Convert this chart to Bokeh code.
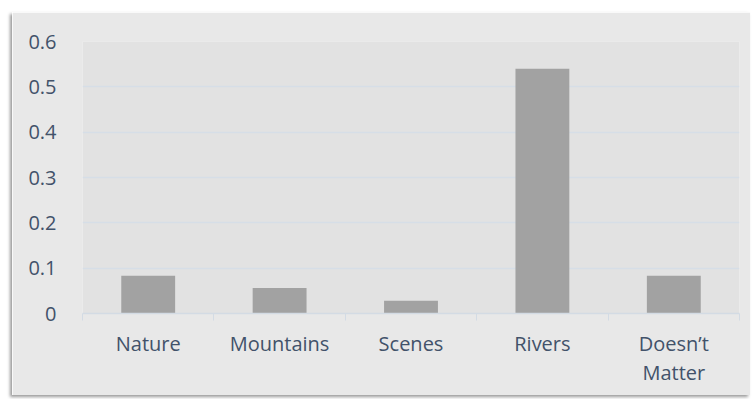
from bokeh.plotting import figure
from bokeh.models import FixedTicker, ColumnDataSource, Spacer
from bokeh.layouts import column, row
from bokeh.embed import file_html
from bokeh.resources import INLINE

categories = ["Nature", "Mountains", "Scenes", "Rivers", "Doesn\u2019t\nMatter"]
values = [0.083, 0.056, 0.028, 0.54, 0.083]
y_ticks = [0, 0.1, 0.2, 0.3, 0.4, 0.5, 0.6]

positions = [i + 0.5 for i in range(len(categories))]
boundaries = [float(i) for i in range(len(categories) + 1)]

src = ColumnDataSource(dict(x=positions, top=values))

p = figure(width=738, height=383, output_backend="svg", toolbar_location=None,
           x_range=(0, len(categories)), y_range=(0, 0.6),
           min_border_left=70, min_border_right=11, min_border_top=29, min_border_bottom=82)
p.background_fill_color = "#e2e2e2"
p.border_fill_color = "#e8e8e8"
p.outline_line_color = None
p.styles = {"box-shadow": "-2px 2px 3px #9a9a9a"}

p.vbar(x="x", top="top", width=0.41, source=src, fill_color="#a2a2a2", line_color=None)

TXT = "#42526a"
FONT = "Open Sans"

p.xaxis.ticker = FixedTicker(ticks=positions, minor_ticks=boundaries)
p.xaxis.major_label_overrides = {pos: c for pos, c in zip(positions, categories)}
p.xaxis.major_tick_line_color = None
p.xaxis.major_tick_out = 0
p.xaxis.major_tick_in = 0
p.xaxis.minor_tick_out = 7
p.xaxis.minor_tick_in = 0
p.xaxis.minor_tick_line_color = "#d3dbe4"
p.xaxis.axis_line_color = "#d3dbe4"
p.xaxis.axis_line_width = 1.5
p.xaxis.major_label_standoff = 9
p.xaxis.major_label_text_font = FONT
p.xaxis.major_label_text_font_size = "20px"
p.xaxis.major_label_text_line_height = 1.1
p.xaxis.major_label_text_color = TXT

p.yaxis.ticker = FixedTicker(ticks=y_ticks)
p.yaxis.major_label_overrides = {0: "0"}
p.yaxis.axis_line_color = None
p.yaxis.major_tick_line_color = None
p.yaxis.minor_tick_line_color = None
p.yaxis.major_label_standoff = 20
p.yaxis.major_label_text_font = FONT
p.yaxis.major_label_text_font_size = "20px"
p.yaxis.major_label_text_color = TXT

p.xgrid.grid_line_color = None
p.ygrid.grid_line_color = "#d6dee7"
p.ygrid.grid_line_width = 1.5

layout = column(Spacer(height=12), row(Spacer(width=12), p))

open("out.html", "w").write(file_html(layout, INLINE))
